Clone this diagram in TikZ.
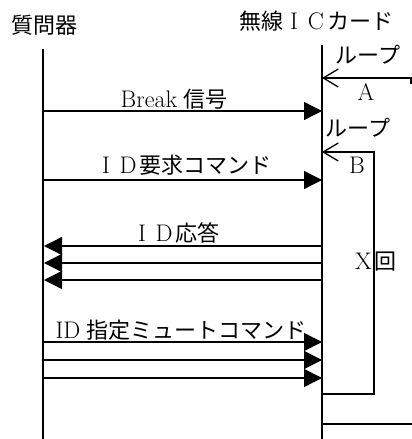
\documentclass[tikz,border=0pt]{standalone}
\usepackage{fontspec}
\newfontfamily\jp{Noto Sans CJK JP}
\usetikzlibrary{arrows.meta}
\newcommand\Lt[1]{{\rmfamily\fontsize{24}{28}\selectfont #1}}
\newcommand\FW[1]{\makebox[22pt]{\Lt{#1}}}
\begin{document}
\begin{tikzpicture}[x=1pt,y=-1pt,
  lbl/.style={font=\jp\fontsize{22}{26}\selectfont, inner sep=0pt},
  life/.style={line width=1.3pt},
  msg/.style={line width=1.3pt,-{Triangle[length=18pt,width=18pt]}},
  loopline/.style={line width=1.3pt},
  barb/.style={line width=1.3pt,-{Straight Barb[length=15pt,width=18pt]}}]
\useasboundingbox (0,0) rectangle (412,439);
% headers
\node[lbl] (q) at (44,25) {質問器};
\node[lbl] (c) at (316,21) {無線\FW{I}\FW{C}カード};
% lifelines
\coordinate (qt) at (43,49); \coordinate (qb) at (43,439);
\coordinate (ct) at (322,45); \coordinate (cb) at (322,439);
\draw[life] (qt) -- (qb);
\draw[life] (ct) -- (cb);
% loop A
\node[lbl] (loopA) at (368,55) {ループ};
\node[lbl] (A) at (366,92) {\Lt{A}};
\coordinate (a0) at (411,84); \coordinate (a1) at (411,78); \coordinate (a2) at (322,78);
\draw[barb] (a0) -- (a1) -- (a2);
% Break
\node[lbl] (brk) at (174,99) {\Lt{Break}\hspace{6pt}信号};
\coordinate (m1s) at (43,111); \coordinate (m1e) at (322,111);
\draw[msg] (m1s) -- (m1e);
% loop B
\node[lbl] (loopB) at (358,128) {ループ};
\node[lbl] (B) at (357,165) {\Lt{B}};
\coordinate (b0) at (323,394); \coordinate (b1) at (374,394);
\coordinate (b2) at (374,152); \coordinate (b3) at (322,152);
\draw[barb] (b0) -- (b1) -- (b2) -- (b3);
\node[lbl, anchor=west] (xk) at (355,262) {\Lt{X}\hspace{3pt}回};
% ID request
\node[lbl] (req) at (183,165) {\FW{I}\FW{D}要求コマンド};
\coordinate (m2s) at (43,180); \coordinate (m2e) at (322,180);
\draw[msg] (m2s) -- (m2e);
% ID response
\node[lbl] (resp) at (175,233) {\FW{I}\FW{D}応答};
\coordinate (r1s) at (322,246); \coordinate (r1e) at (44,246);
\coordinate (r2s) at (322,263); \coordinate (r2e) at (44,263);
\coordinate (r3s) at (322,280); \coordinate (r3e) at (44,280);
\draw[msg] (r1s) -- (r1e);
\draw[msg] (r2s) -- (r2e);
\draw[msg] (r3s) -- (r3e);
% mute command
\node[lbl] (mute) at (181,330) {\Lt{ID}\hspace{6pt}指定ミュートコマンド};
\coordinate (u1s) at (44,342); \coordinate (u1e) at (322,342);
\coordinate (u2s) at (44,360); \coordinate (u2e) at (322,360);
\coordinate (u3s) at (44,378); \coordinate (u3e) at (322,378);
\draw[msg] (u1s) -- (u1e);
\draw[msg] (u2s) -- (u2e);
\draw[msg] (u3s) -- (u3e);
% bottom line
\coordinate (e0) at (322,424); \coordinate (e1) at (412,424);
\draw[loopline] (e0) -- (e1);
\end{tikzpicture}
\end{document}
